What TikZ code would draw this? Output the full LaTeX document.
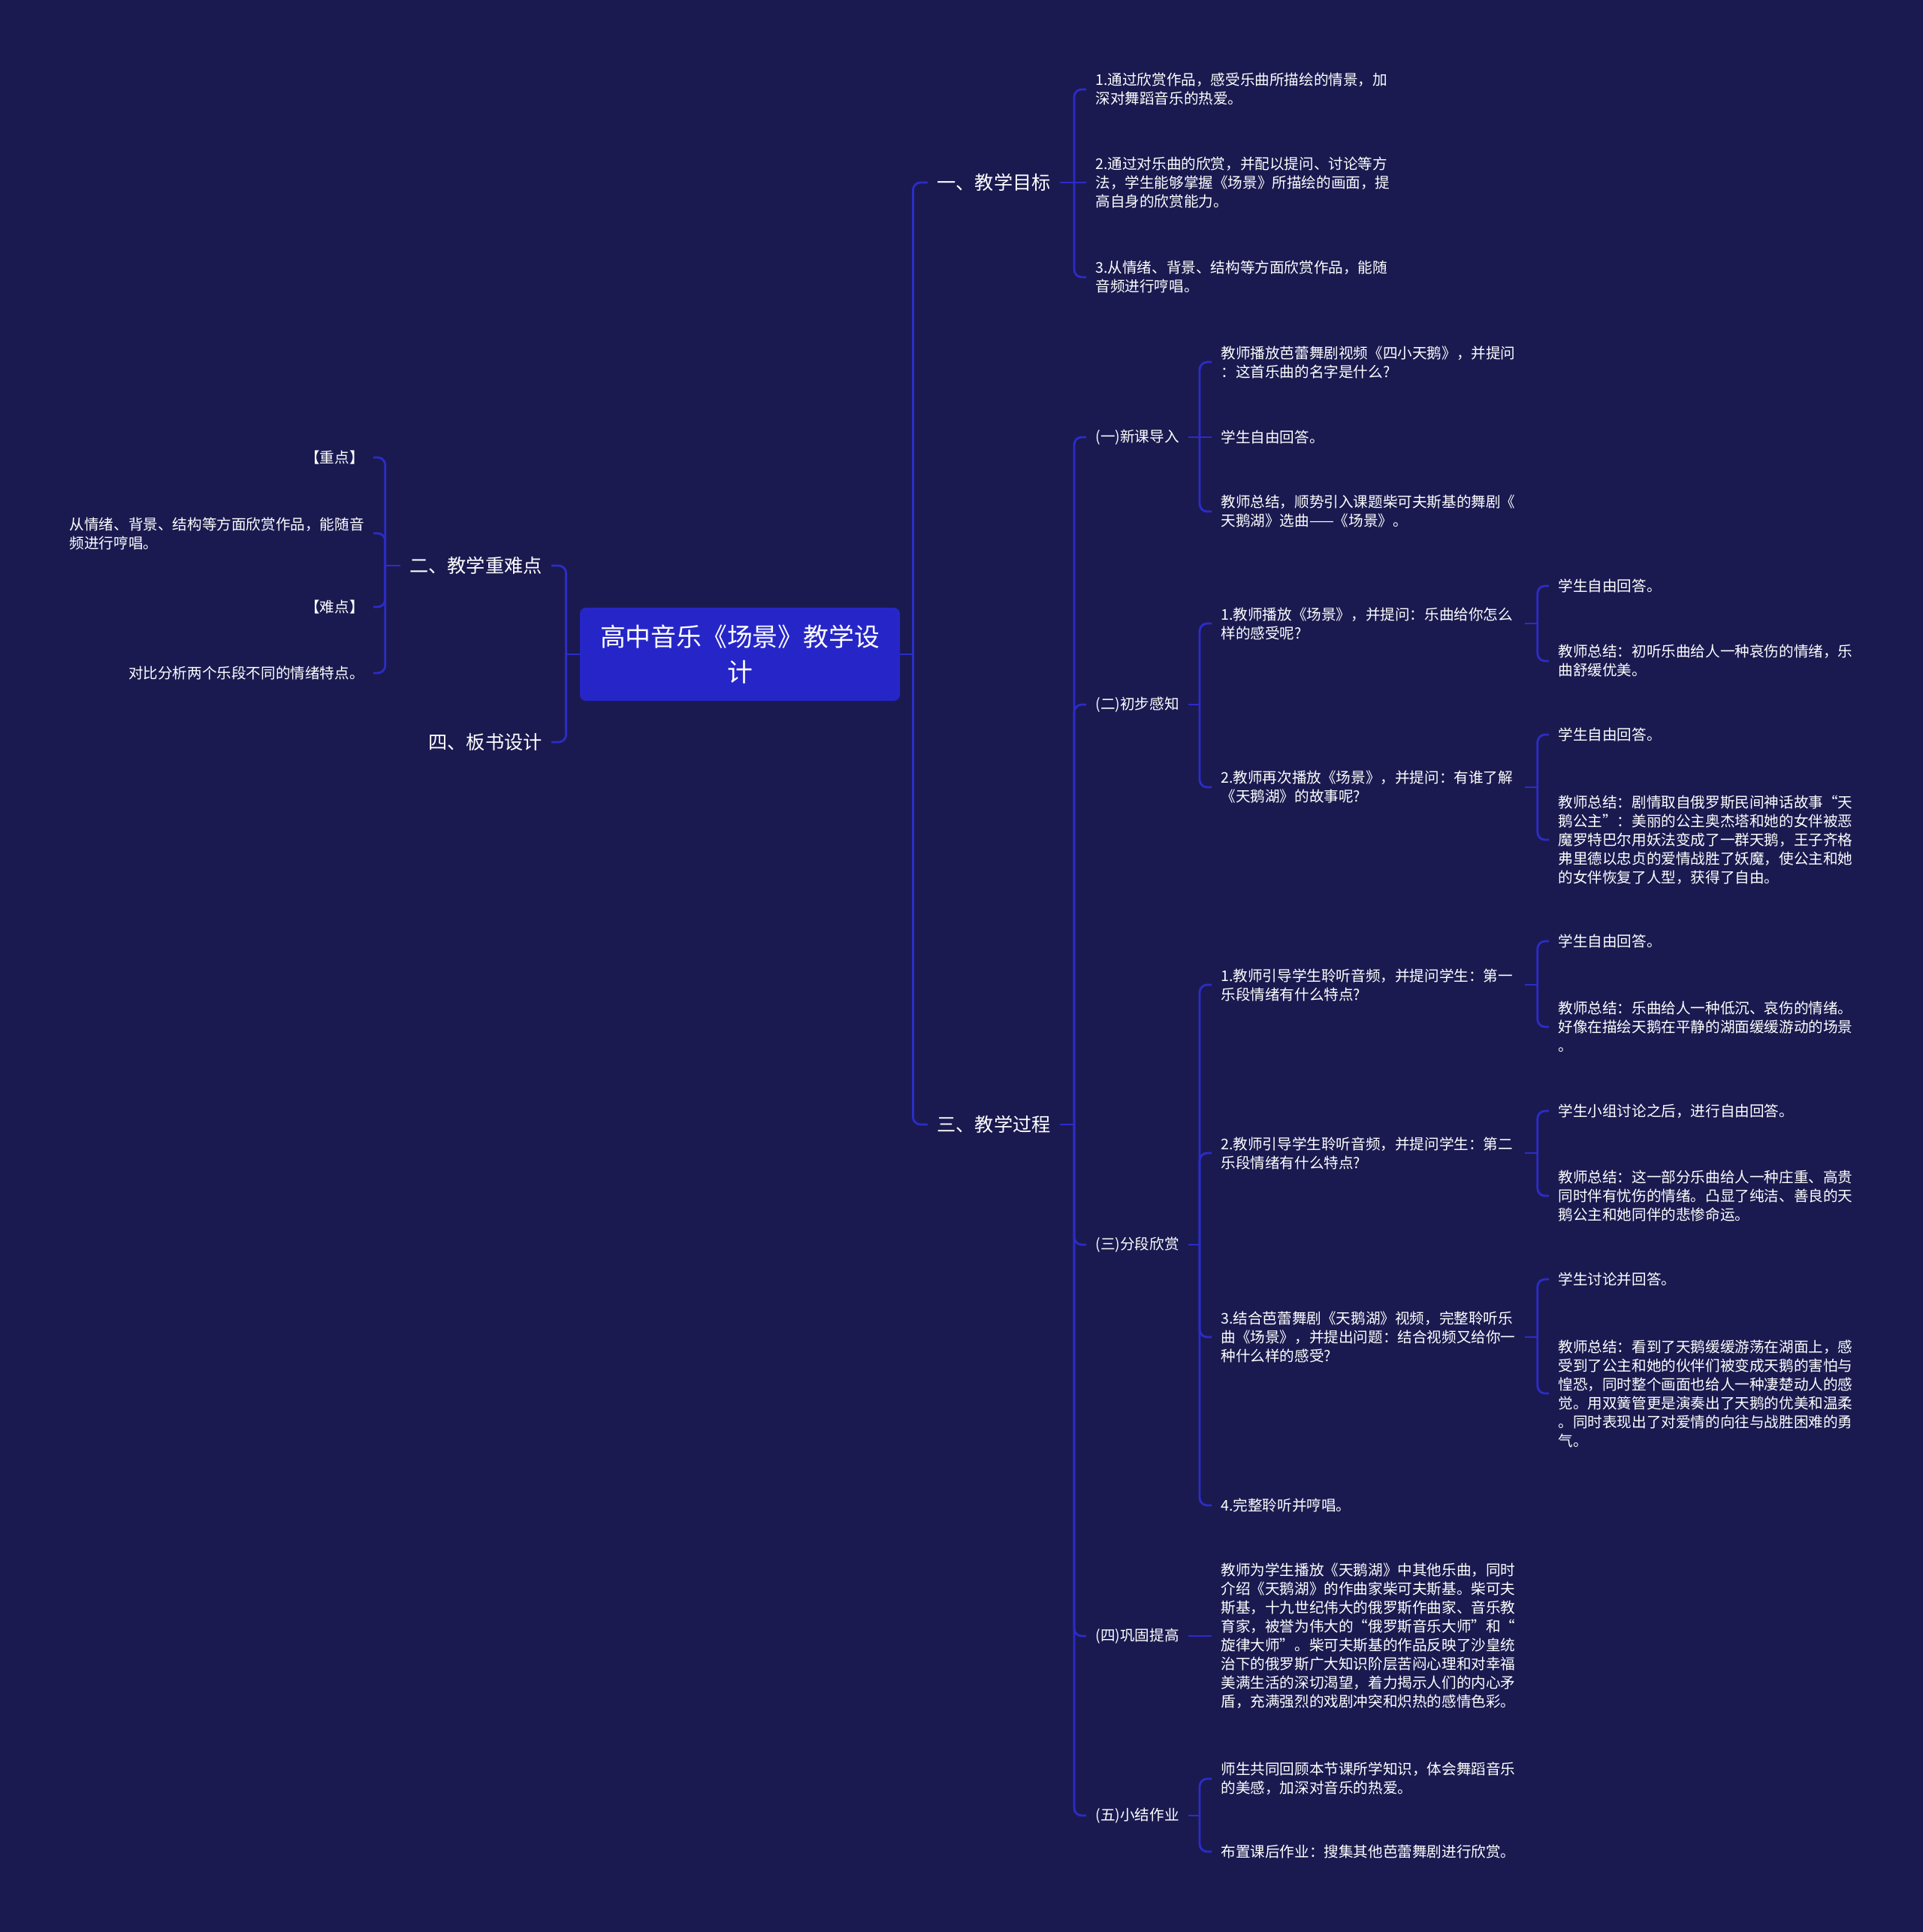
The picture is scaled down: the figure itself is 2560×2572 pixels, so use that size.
\documentclass[tikz,border=0pt]{standalone}
\usepackage{fontspec}
\setmainfont{Noto Sans CJK SC}
\definecolor{mmbg}{HTML}{1A1A50}
\definecolor{mmline}{HTML}{2C2CC8}
\definecolor{mmroot}{HTML}{2626C8}

\begin{document}
\begin{tikzpicture}[x=0.5pt, y=-0.5pt,
  link/.style={draw=mmline, line width=1.4pt, rounded corners=5pt},
  rootbox/.style={fill=mmroot, rounded corners=4pt, text=white, align=center,
    minimum width=213pt, minimum height=62pt, inner sep=0pt,
    font=\fontsize{16.9pt}{23.5pt}\selectfont},
  mainhead/.style={text=white, anchor=west, inner xsep=6pt,
    font=\fontsize{12.6pt}{15pt}\selectfont},
  subhead/.style={text=white, anchor=west, inner xsep=6pt,
    font=\fontsize{9.8pt}{12.5pt}\selectfont},
  leaf/.style={subhead, text width=196pt, align=left},
  lkid/.style={subhead, anchor=east, align=left}]
  % background and frame
  \useasboundingbox (0,0) rectangle (2560,2572);
  \fill[mmbg] (0,0) rectangle (2560,2572);

  % root
  \node[rootbox] (root) at (985,871) {高中音乐《场景》教学设\\计};

  % left branches
  \node[mainhead, anchor=east] (zd) at (734,753) {二、教学重难点};
  \node[mainhead, anchor=east] (bs) at (734,988) {四、板书设计};
  \node[lkid] (zdA) at (497,609) {【重点】};
  \node[lkid] (zdB) at (497,710) {从情绪、背景、结构等方面欣赏作品，能随音\\频进行哼唱。};
  \node[lkid] (zdC) at (497,808) {【难点】};
  \node[lkid] (zdD) at (497,896) {对比分析两个乐段不同的情绪特点。};

  % right branches
  \node[mainhead] (mb) at (1235,243) {一、教学目标};
  \node[mainhead] (gc) at (1235,1497) {三、教学过程};

  % 一、教学目标
  \node[leaf] (mb1) at (1446,119) {1.通过欣赏作品，感受乐曲所描绘的情景，加\\深对舞蹈音乐的热爱。};
  \node[leaf] (mb2) at (1446,243) {2.通过对乐曲的欣赏，并配以提问、讨论等方\\法，学生能够掌握《场景》所描绘的画面，提\\高自身的欣赏能力。};
  \node[leaf] (mb3) at (1446,369) {3.从情绪、背景、结构等方面欣赏作品，能随\\音频进行哼唱。};

  % 三、教学过程
  \node[subhead] (s1) at (1446,582) {(一)新课导入};
  \node[subhead] (s2) at (1446,938) {(二)初步感知};
  \node[subhead] (s3) at (1446,1657) {(三)分段欣赏};
  \node[subhead] (s4) at (1446,2178) {(四)巩固提高};
  \node[subhead] (s5) at (1446,2417) {(五)小结作业};

  \node[leaf] (a1) at (1613,482) {教师播放芭蕾舞剧视频《四小天鹅》，并提问\\：这首乐曲的名字是什么?};
  \node[leaf] (a2) at (1613,582) {学生自由回答。};
  \node[leaf] (a3) at (1613,681) {教师总结，顺势引入课题柴可夫斯基的舞剧《\\天鹅湖》选曲——《场景》。};

  \node[leaf] (b1) at (1613,830) {1.教师播放《场景》，并提问：乐曲给你怎么\\样的感受呢?};
  \node[leaf] (b2) at (1613,1048) {2.教师再次播放《场景》，并提问：有谁了解\\《天鹅湖》的故事呢?};
  \node[leaf] (b1x) at (2062,780) {学生自由回答。};
  \node[leaf] (b1y) at (2062,880) {教师总结：初听乐曲给人一种哀伤的情绪，乐\\曲舒缓优美。};
  \node[leaf] (b2x) at (2062,978) {学生自由回答。};
  \node[leaf] (b2y) at (2062,1118) {教师总结：剧情取自俄罗斯民间神话故事“天\\鹅公主”：美丽的公主奥杰塔和她的女伴被恶\\魔罗特巴尔用妖法变成了一群天鹅，王子齐格\\弗里德以忠贞的爱情战胜了妖魔，使公主和她\\的女伴恢复了人型，获得了自由。};

  \node[leaf] (c1) at (1613,1311) {1.教师引导学生聆听音频，并提问学生：第一\\乐段情绪有什么特点?};
  \node[leaf] (c2) at (1613,1535) {2.教师引导学生聆听音频，并提问学生：第二\\乐段情绪有什么特点?};
  \node[leaf] (c3) at (1613,1780) {3.结合芭蕾舞剧《天鹅湖》视频，完整聆听乐\\曲《场景》，并提出问题：结合视频又给你一\\种什么样的感受?};
  \node[leaf] (c4) at (1613,2004) {4.完整聆听并哼唱。};
  \node[leaf] (c1x) at (2062,1253) {学生自由回答。};
  \node[leaf] (c1y) at (2062,1367) {教师总结：乐曲给人一种低沉、哀伤的情绪。\\好像在描绘天鹅在平静的湖面缓缓游动的场景\\。};
  \node[leaf] (c2x) at (2062,1479) {学生小组讨论之后，进行自由回答。};
  \node[leaf] (c2y) at (2062,1592) {教师总结：这一部分乐曲给人一种庄重、高贵\\同时伴有忧伤的情绪。凸显了纯洁、善良的天\\鹅公主和她同伴的悲惨命运。};
  \node[leaf] (c3x) at (2062,1703) {学生讨论并回答。};
  \node[leaf] (c3y) at (2062,1855) {教师总结：看到了天鹅缓缓游荡在湖面上，感\\受到了公主和她的伙伴们被变成天鹅的害怕与\\惶恐，同时整个画面也给人一种凄楚动人的感\\觉。用双簧管更是演奏出了天鹅的优美和温柔\\。同时表现出了对爱情的向往与战胜困难的勇\\气。};

  \node[leaf] (d1) at (1613,2178) {教师为学生播放《天鹅湖》中其他乐曲，同时\\介绍《天鹅湖》的作曲家柴可夫斯基。柴可夫\\斯基，十九世纪伟大的俄罗斯作曲家、音乐教\\育家，被誉为伟大的“俄罗斯音乐大师”和“\\旋律大师”。柴可夫斯基的作品反映了沙皇统\\治下的俄罗斯广大知识阶层苦闷心理和对幸福\\美满生活的深切渴望，着力揭示人们的内心矛\\盾，充满强烈的戏剧冲突和炽热的感情色彩。};

  \node[leaf] (e1) at (1613,2368) {师生共同回顾本节课所学知识，体会舞蹈音乐\\的美感，加深对音乐的热爱。};
  \node[leaf] (e2) at (1613,2465) {布置课后作业：搜集其他芭蕾舞剧进行欣赏。};

  % connectors, left side
  \draw[link] (root.west) -- ++(-18,0);
  \foreach \k in {zd,bs}
    \draw[link] (root.west) ++(-18,0) |- (\k.east);
  \draw[link] (zd.west) -- ++(-20,0);
  \foreach \k in {zdA,zdB,zdC,zdD}
    \draw[link] (zd.west) ++(-20,0) |- (\k.east);

  % connectors, right side
  \draw[link] (root.east) -- ++(17,0);
  \foreach \k in {mb,gc}
    \draw[link] (root.east) ++(17,0) |- (\k.west);
  \draw[link] (mb.east) -- ++(19,0);
  \foreach \k in {mb1,mb3}
    \draw[link] (mb.east) ++(19,0) |- (\k.west);
  \draw[link] (mb.east) -- (mb2.west);
  \draw[link] (gc.east) -- ++(19,0);
  \foreach \k in {s1,s2,s3,s4,s5}
    \draw[link] (gc.east) ++(19,0) |- (\k.west);

  % sub-sections
  \foreach \p/\kids in {s1/{a1,a3}, s2/{b1,b2}, s3/{c1,c2,c3,c4}, s5/{e1,e2}}{
    \draw[link] (\p.east) -- ++(15,0);
    \foreach \k in \kids
      \draw[link] (\p.east) ++(15,0) |- (\k.west);
  }
  \draw[link] (s1.east) -- (a2.west);
  \draw[link] (s4.east) -- (d1.west);
  \foreach \p/\kids in {b1/{b1x,b1y}, b2/{b2x,b2y}, c1/{c1x,c1y}, c2/{c2x,c2y}, c3/{c3x,c3y}}{
    \draw[link] (\p.east) -- ++(17,0);
    \foreach \k in \kids
      \draw[link] (\p.east) ++(17,0) |- (\k.west);
  }
\end{tikzpicture}
\end{document}
